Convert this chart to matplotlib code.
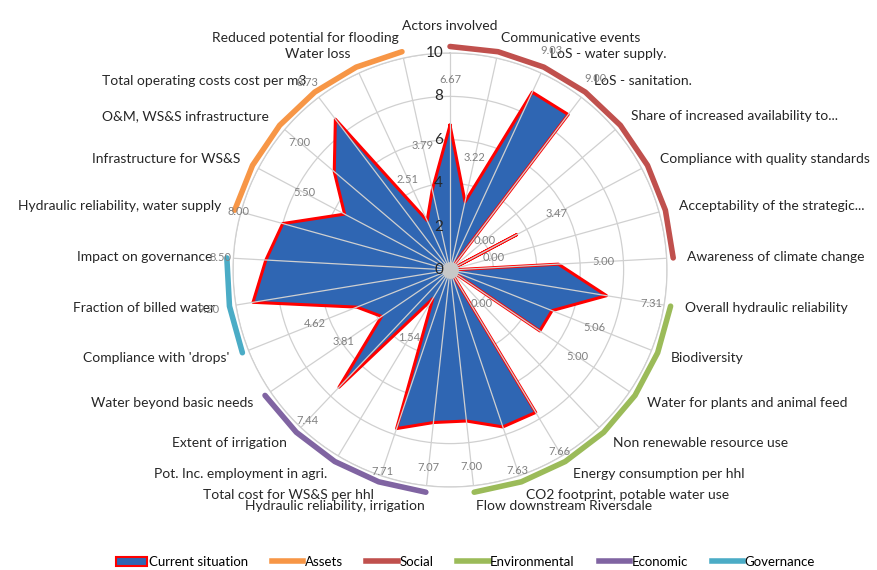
import numpy as np
import matplotlib
matplotlib.use("Agg")
import matplotlib.pyplot as plt
from matplotlib.patches import Patch
from matplotlib.lines import Line2D

plt.rcParams['font.family'] = ['Lato', 'DejaVu Sans']

# categories, clockwise from the top
categories = [
    "Actors involved", "Communicative events", "LoS - water supply.",
    "LoS - sanitation.", "Share of increased availability to...",
    "Compliance with quality standards", "Acceptability of the strategic...",
    "Awareness of climate change", "Overall hydraulic reliability",
    "Biodiversity", "Water for plants and animal feed",
    "Non renewable resource use", "Energy consumption per hhl",
    "CO2 footprint, potable water use", "Flow downstream Riversdale",
    "Hydraulic reliability, irrigation", "Total cost for WS&S per hhl",
    "Pot. Inc. employment in agri.", "Extent of irrigation",
    "Water beyond basic needs", "Compliance with 'drops'",
    "Fraction of billed water", "Impact on governance",
    "Hydraulic reliability, water supply", "Infrastructure for WS&S",
    "O&M, WS&S infrastructure", "Total operating costs cost per m3",
    "Water loss", "Reduced potential for flooding",
]
current = [6.67, 3.22, 9.03, 9.00, 0.00, 3.47, 0.00, 5.00, 7.31, 5.06,
           5.00, 0.00, 7.66, 7.63, 7.00, 7.07, 7.71, 1.54, 7.44, 3.81,
           4.62, 9.20, 8.50, 8.00, 5.50, 7.00, 8.73, 2.51, 3.79]

# groups: (name, first index, last index, colour)
groups = [
    ("Assets", 23, 28, "#F79646"),
    ("Social", 0, 7, "#C0504D"),
    ("Environmental", 8, 14, "#9BBB59"),
    ("Economic", 15, 19, "#8064A2"),
    ("Governance", 20, 22, "#4BACC6"),
]
group_r = 10.3
rticks = [0, 2, 4, 6, 8, 10]

n = len(categories)
theta = np.arange(n) * 2 * np.pi / n

fig = plt.figure(figsize=(8.78, 5.70), dpi=100)
ax = fig.add_axes([0.2654, 0.1456, 0.4943, 0.7614], projection='polar')
ax.set_theta_zero_location('N')
ax.set_theta_direction(-1)
ax.set_ylim(0, 10)
ax.set_yticks(rticks[1:])
ax.set_yticklabels([])
ax.set_xticks([])
ax.grid(False)
ax.yaxis.grid(True, color='#d0d0d0', lw=0.9)
ax.spines['polar'].set_color('#d0d0d0')
ax.spines['polar'].set_linewidth(0.9)

# filled series
tc = np.append(theta, theta[0])
vc = np.append(current, current[0])
ax.fill(tc, vc, color='#2F66B3', zorder=2)
ax.plot(tc, vc, color='#FF0000', lw=2.2, zorder=3)

# spokes on top
for t in theta:
    ax.plot([t, t], [0, 10], color='#d0d0d0', lw=0.9, zorder=4)
ax.plot([0], [0], 'o', ms=11, color='#c8c8c8', zorder=5)

# group arcs
for name, a, b, col in groups:
    ax.plot(theta[a:b + 1], [group_r] * (b - a + 1), color=col, lw=4,
            solid_capstyle='round', clip_on=False, zorder=6)

# radial labels
for v in rticks:
    ax.annotate(str(v), xy=(0, v), xytext=(-5, 0), textcoords='offset points',
                ha='right', va='center', fontsize=11, color='#262626', zorder=7)

# category labels
for t, lab in zip(theta, categories):
    deg = np.degrees(t)
    if deg == 0:
        ha, va = 'center', 'bottom'
    elif deg < 180:
        ha, va = 'left', 'center'
    else:
        ha, va = 'right', 'center'
    ax.text(t, 10.95, lab, ha=ha, va=va, fontsize=10, color='#262626')

# value labels
for t, v in zip(theta, current):
    ax.text(t, v + 2.1, f"{v:.2f}", ha='center', va='center', fontsize=8,
            color='#808080', zorder=7)

handles = [Patch(facecolor='#2F66B3', edgecolor='#FF0000', lw=1.5)]
labels = ["Current situation"]
for name, a, b, col in groups:
    handles.append(Line2D([0], [0], color=col, lw=4))
    labels.append(name)
fig.legend(handles, labels, loc='center', bbox_to_anchor=(0.53, 0.014),
           ncol=6, frameon=False, fontsize=9.5, handlelength=2.4,
           handletextpad=0.1, columnspacing=1.8)

fig.savefig("out.png", dpi=100)
